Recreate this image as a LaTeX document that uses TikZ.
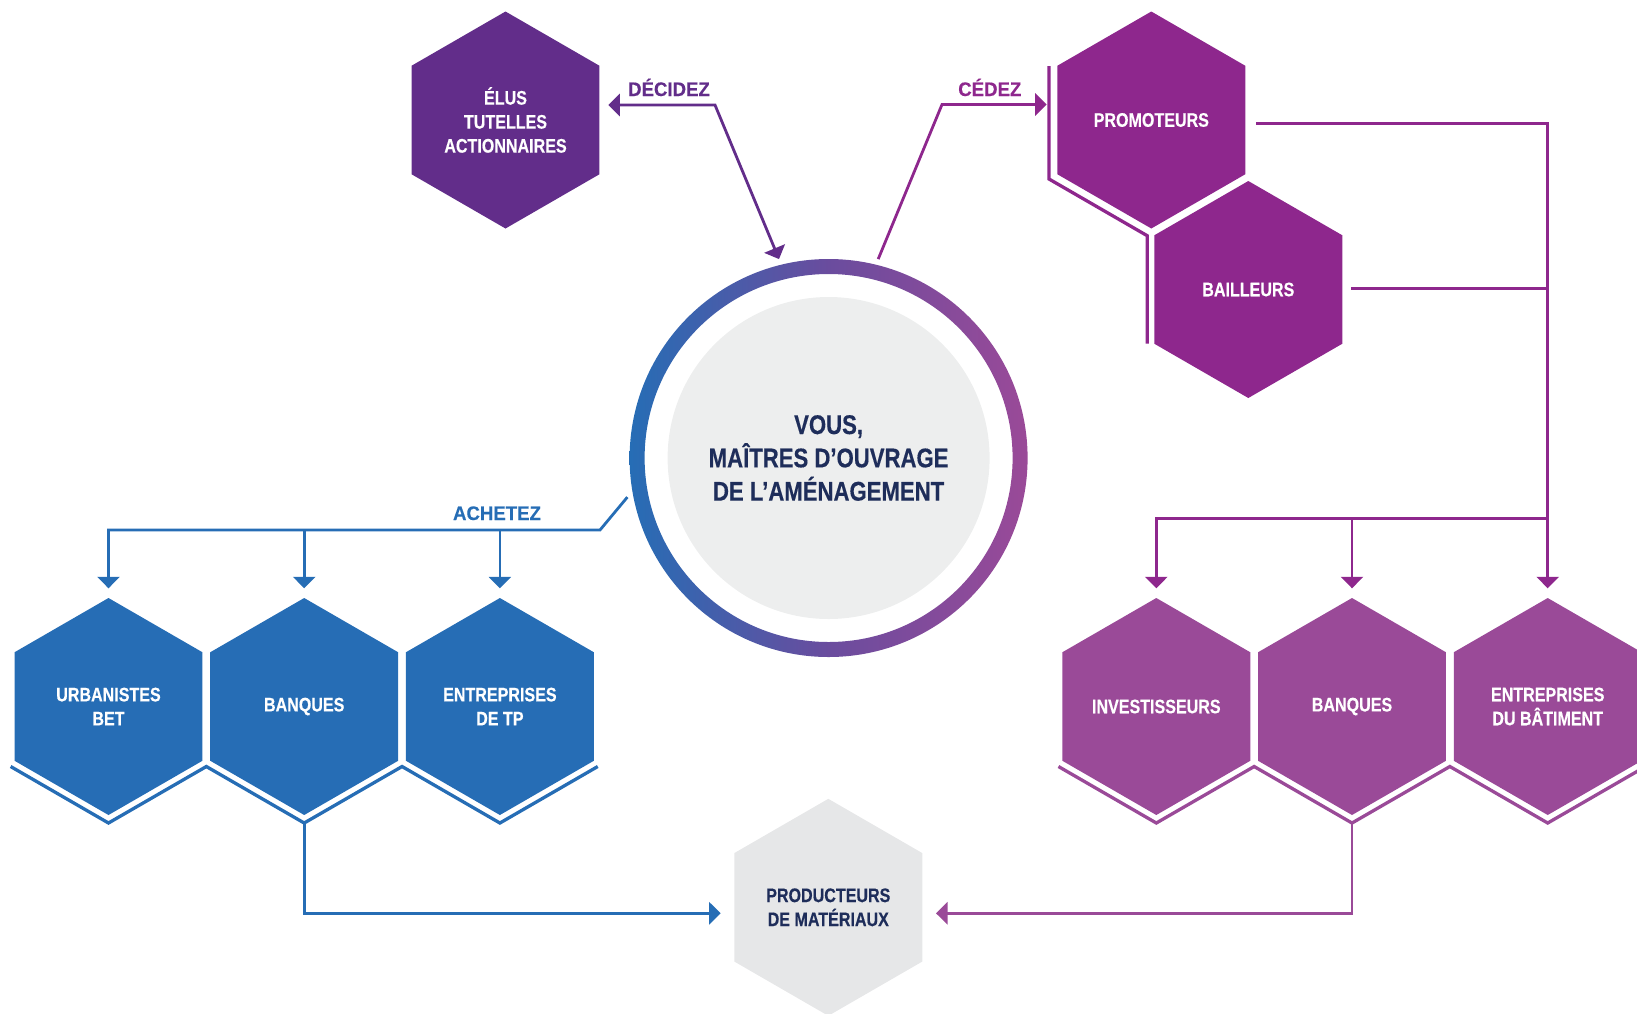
\documentclass[tikz,border=0pt]{standalone}
\usepackage{fontspec}
\newfontfamily\condfont[FakeStretch=0.82,FakeBold=0.35]{Liberation Sans}
\newfontfamily\labfont[FakeStretch=0.95,FakeBold=0.35]{Liberation Sans}
\usetikzlibrary{shapes.geometric,arrows.meta,calc}
\definecolor{cElus}{HTML}{622D8A}
\definecolor{cProm}{HTML}{8E278D}
\definecolor{cBlue}{HTML}{266DB5}
\definecolor{cLilac}{HTML}{9A4A98}
\definecolor{cGreyHex}{HTML}{E6E7E8}
\definecolor{cDisc}{HTML}{EDEEEE}
\definecolor{cNavy}{HTML}{1E2D5A}
\definecolor{cRingM}{HTML}{6A4C9E}
\begin{document}
\begin{tikzpicture}[x=1pt,y=1pt,
  hexnode/.style={regular polygon, regular polygon sides=6, shape border rotate=30,
    minimum size=217pt, inner sep=0pt, outer sep=0pt, text=white, align=center,
    font=\condfont\bfseries\fontsize{19.6}{24}\selectfont},
  lab/.style={inner sep=0pt, anchor=base, font=\labfont\bfseries\fontsize{19.6}{24}\selectfont},
  conn/.style={line width=2.8pt},
  zig/.style={line width=3.3pt},
  tip/.style={-{Triangle[length=11.5pt,width=22pt]}},
  twotips/.style={{Triangle[length=11.5pt,width=22pt]}-{Triangle[length=11.5pt,width=22pt]}}]
\clip (0,0) rectangle (1637,-1013);

% hexagons
\node[hexnode, fill=cElus] (elus) at (505.5,-120) {ÉLUS\\TUTELLES\\ACTIONNAIRES};
\node[hexnode, fill=cProm] (prom) at (1151.3,-120) {PROMOTEURS};
\node[hexnode, fill=cProm] (bail) at (1248.3,-289.5) {BAILLEURS};
\node[hexnode, fill=cBlue, yshift=-3pt] (urb) at (108.5,-703.5) {URBANISTES\\BET};
\node[hexnode, fill=cBlue] (banqB) at (304.2,-706.5) {BANQUES};
\node[hexnode, fill=cBlue] (tp) at (499.9,-706.5) {ENTREPRISES\\DE TP};
\node[hexnode, fill=cLilac] (inv) at (1156.3,-706.5) {INVESTISSEURS};
\node[hexnode, fill=cLilac] (banqP) at (1352,-706.5) {BANQUES};
\node[hexnode, fill=cLilac] (bat) at (1547.7,-706.5) {ENTREPRISES\\DU BÂTIMENT};
\node[hexnode, fill=cGreyHex, text=cNavy] (prod) at (828.3,-907.3) {PRODUCTEURS\\DE MATÉRIAUX};

% central circle
\coordinate (c0) at (828.6,-458);
\shade[left color=cBlue, right color=cLilac, middle color=cRingM, even odd rule]
  (c0) circle[radius=199] (c0) circle[radius=184];
\node[circle, fill=cDisc, minimum size=322pt, inner sep=0pt, text=cNavy, align=center,
  font=\condfont\bfseries\fontsize{27}{33.3}\selectfont] (vous) at (c0)
  {VOUS,\\MAÎTRES D’OUVRAGE\\DE L’AMÉNAGEMENT};

% labels
\node[lab, text=cElus] (ldec) at (669,-96) {DÉCIDEZ};
\node[lab, text=cProm] (lced) at (989.8,-96) {CÉDEZ};
\node[lab, text=cBlue] (lach) at (497,-520) {ACHETEZ};

% DECIDEZ
\draw[conn, cElus, twotips] ($(elus.center)+(102.8,15)$) -- ($(elus.center)+(209.5,15)$)
  -- ($(vous.center)+(104:205)$);
% CEDEZ
\draw[conn, cProm, tip] ($(vous.center)+(76:205)$) -- ($(prom.center)+(-209.3,15.5)$)
  -- ($(prom.center)+(-104.6,15.5)$);
% bracket
\draw[zig, cProm] ($(prom.center)+(-102.3,54)$) -- ($(prom.center)+(-102.3,-59)$)
  -- ($(bail.center)+(-101.1,53.8)$) -- ($(bail.center)+(-101.1,-54)$);

% right trunk
\draw[conn, cProm, tip] ($(prom.center)+(104.7,-3.3)$) -| ($(bat.center)+(0,118.2)$);
\draw[conn, cProm] ($(bail.center)+(102.7,1.4)$) -- ($(bail.center)+(299.4,1.4)$);
\draw[conn, cProm, tip] ($(bat.center)+(0,188.2)$) -| ($(inv.center)+(0,118.2)$);
\draw[conn, cProm, tip] ($(banqP.center)+(0,188.2)$) -- ($(banqP.center)+(0,118.2)$);

% ACHETEZ
\draw[conn, cBlue, tip] ($(vous.center)+(191:205)$) -- ($(tp.center)+(100.1,176.5)$)
  -| ($(banqB.center)+(-195.7,118.2)$);
\draw[conn, cBlue, tip] ($(banqB.center)+(0,176.5)$) -- ($(banqB.center)+(0,118.2)$);
\draw[conn, cBlue, tip] ($(tp.center)+(0,176.5)$) -- ($(tp.center)+(0,118.2)$);

% zigzags
\draw[zig, cBlue] ($(banqB.center)+(-293.55,-60)$) -- ($(banqB.center)+(-195.7,-116.5)$)
  -- ($(banqB.center)+(-97.85,-60)$) -- ($(banqB.center)+(0,-116.5)$)
  -- ($(banqB.center)+(97.85,-60)$) -- ($(tp.center)+(0,-116.5)$)
  -- ($(tp.center)+(97.85,-60)$);
\draw[zig, cLilac] ($(inv.center)+(-97.85,-60)$) -- ($(inv.center)+(0,-116.5)$)
  -- ($(inv.center)+(97.85,-60)$) -- ($(banqP.center)+(0,-116.5)$)
  -- ($(banqP.center)+(97.85,-60)$) -- ($(bat.center)+(0,-116.5)$)
  -- ($(bat.center)+(97.85,-60)$);

% to producteurs
\draw[conn, cBlue, tip] ($(banqB.center)+(0,-116.5)$) |- ($(prod.center)+(-107.6,-6)$);
\draw[conn, cLilac, tip] ($(banqP.center)+(0,-116.5)$) |- ($(prod.center)+(107.7,-6)$);
\end{tikzpicture}
\end{document}
